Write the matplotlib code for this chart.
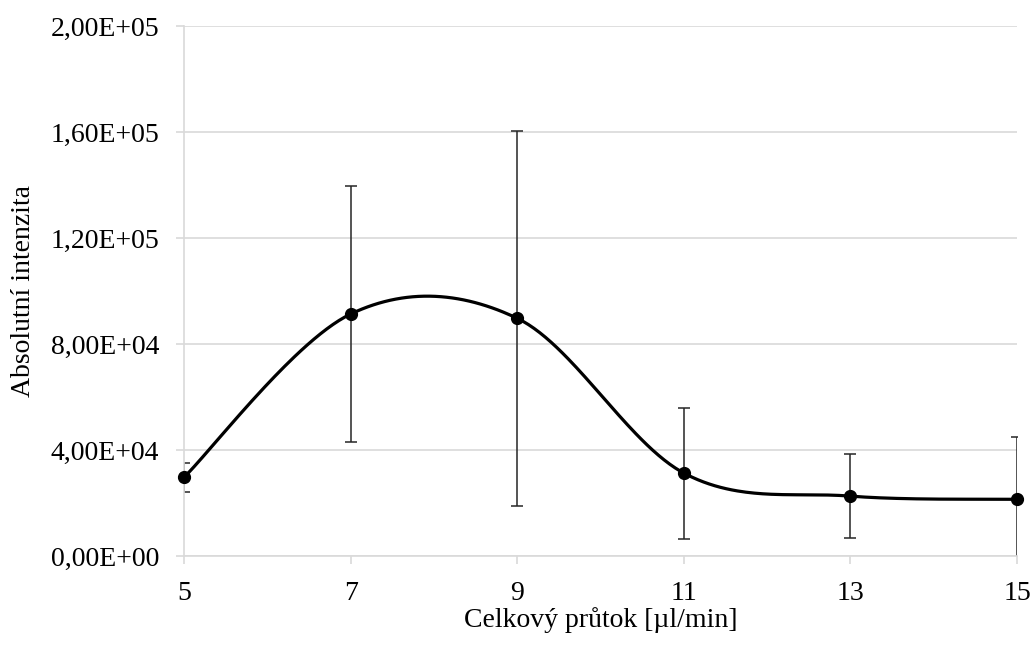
import numpy as np
import matplotlib
matplotlib.use('Agg')
import matplotlib.pyplot as plt
from matplotlib.ticker import FuncFormatter

plt.rcParams['font.family'] = ['Liberation Serif', 'DejaVu Serif']

prutok = [5, 7, 9, 11, 13, 15]
intenzita = [29700, 91300, 89700, 31300, 22600, 21400]
chyba = [5400, 48300, 70800, 24700, 15900, 23400]


def smooth(x, y, n=60):
    # Catmull-Rom style smoothing, like the spreadsheet "smoothed line"
    p = np.column_stack([x, y]).astype(float)
    p = np.vstack([p[0], p, p[-1]])
    out = []
    for i in range(1, len(p) - 2):
        p0, p1, p2, p3 = p[i - 1], p[i], p[i + 1], p[i + 2]
        c1 = p1 + (p2 - p0) / 6
        c2 = p2 - (p3 - p1) / 6
        t = np.linspace(0, 1, n)[:, None]
        seg = ((1 - t) ** 3) * p1 + 3 * ((1 - t) ** 2) * t * c1 + 3 * (1 - t) * t ** 2 * c2 + t ** 3 * p2
        out.append(seg)
    out = np.vstack(out)
    return out[:, 0], out[:, 1]


fig = plt.figure(figsize=(10.35, 6.46), dpi=100)
ax = fig.add_axes([0.1778, 0.1393, 0.8048, 0.8205])

sx, sy = smooth(prutok, intenzita)
ax.plot(sx, sy, color='black', lw=2.3, zorder=3, clip_on=False)
ax.errorbar(prutok, intenzita, yerr=chyba, fmt='none', ecolor='#262626',
            elinewidth=1.1, capsize=4.3, capthick=1.1, zorder=2)
ax.plot(prutok, intenzita, 'o', color='black', ms=8.5, zorder=4, clip_on=False)

ax.set_xlim(5, 15)
ax.set_ylim(0, 200000)
ax.set_xticks(prutok)
ax.set_yticks(np.arange(0, 200001, 40000))
ax.yaxis.set_major_formatter(FuncFormatter(lambda v, p: f'{v:.2E}'.replace('.', ',')))

ax.grid(axis='y', color='#d9d9d9', lw=1.2, zorder=0)
for s in ['top', 'right']:
    ax.spines[s].set_visible(False)
for s in ['left', 'bottom']:
    ax.spines[s].set_color('#d9d9d9')
    ax.spines[s].set_linewidth(1.2)
ax.tick_params(axis='both', direction='out', length=6, width=1.2, color='#d9d9d9',
               labelsize=20, pad=12, labelcolor='black')

ax.set_xlabel('Celkový průtok [µl/min]', fontsize=20, labelpad=1)
ax.set_ylabel('Absolutní intenzita', fontsize=20, labelpad=10)

fig.savefig('out.png', dpi=100)
